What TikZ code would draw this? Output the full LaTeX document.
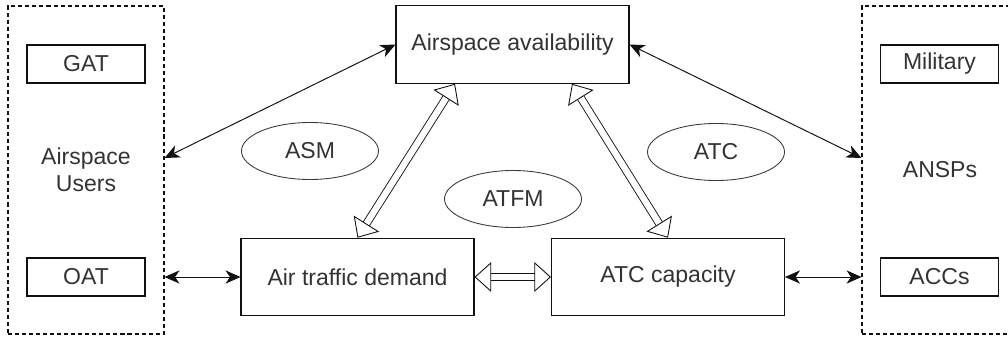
\documentclass[tikz,border=0pt]{standalone}
\usepackage{fontspec}
\setmainfont{Liberation Sans}
\usepackage{xcolor}
\usepackage{tikz}
\usetikzlibrary{arrows.meta,positioning,shapes.geometric,calc}
\definecolor{atmline}{HTML}{111111}
\definecolor{atmtext}{HTML}{333333}
\definecolor{atmoval}{HTML}{3A3A3A}
\tikzset{
  lbl/.style={font=\fontsize{13.1}{15.4}\selectfont,text=atmtext},
  box/.style={lbl,draw=atmline,line width=0.6pt,fill=white,align=center,inner sep=0pt,minimum width=4.66cm,minimum height=1.55cm},
  small/.style={box,minimum width=2.36cm,minimum height=0.76cm},
  group/.style={lbl,draw=atmline,dash pattern=on 2.3pt off 1.7pt,line width=0.6pt,align=center,inner sep=0pt,minimum width=3.12cm,minimum height=6.56cm},
  oval/.style={lbl,ellipse,draw=atmoval,line width=0.5pt,inner sep=0pt,minimum width=2.74cm,minimum height=1.14cm},
  ar/.style={{Stealth[length=8.5pt,width=7.5pt,inset=2.5pt]}-{Stealth[length=8.5pt,width=7.5pt,inset=2.5pt]},draw=atmline,line width=0.55pt},
  har/.style={{Triangle[open,length=9.5pt,width=17pt,line width=0.5pt]}-{Triangle[open,length=9.5pt,width=17pt,line width=0.5pt]},draw=atmline,double,double distance=3.6pt,line width=0.5pt},
}

\begin{document}
\begin{tikzpicture}
  \clip (0,0) rectangle (20.16,6.78);
  % stakeholder groups
  \node[group] (users) at (1.72,3.38) {Airspace\\Users};
  \node[group] (ansps) at (18.80,3.38) {ANSPs};
  \node[small] (gat) at (1.72,5.50) {GAT};
  \node[small] (oat) at (1.72,1.24) {OAT};
  \node[small] (mil) at (18.79,5.50) {Military};
  \node[small] (accs) at (18.79,1.24) {ACCs};
  % central triangle
  \node[box] (avail) at (10.25,5.89) {Airspace availability};
  \node[box] (demand) at (7.15,1.24) {Air traffic demand};
  \node[box] (capacity) at (13.36,1.24) {ATC capacity};
  \node[oval] (asm) at (6.20,3.76) {ASM};
  \node[oval] (atfm) at (10.26,2.80) {ATFM};
  \node[oval] (atc) at (14.32,3.74) {ATC};
  % links
  \draw[ar] (avail.west) -- ([yshift=0.24cm]users.east);
  \draw[ar] (avail.east) -- ([yshift=0.24cm]ansps.west);
  \draw[ar] (users.east |- oat) -- (demand.west);
  \draw[ar] (capacity.east) -- (ansps.west |- accs);
  \draw[har] ([xshift=-1.15cm]avail.south) -- (demand.north);
  \draw[har] ([xshift=1.19cm]avail.south) -- (capacity.north);
  \draw[har] (demand.east) -- (capacity.west);
\end{tikzpicture}
\end{document}
